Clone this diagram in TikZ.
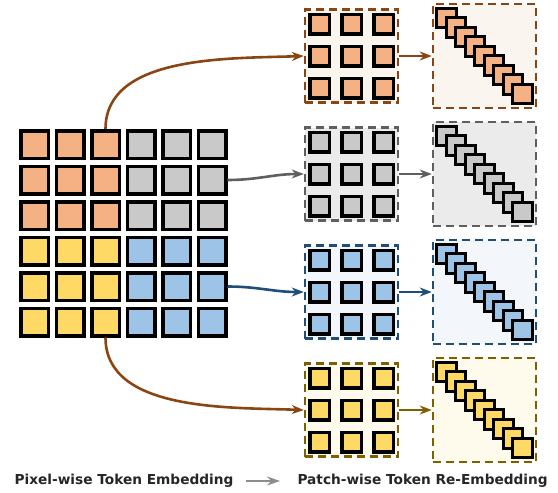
\documentclass[tikz,border=0pt]{standalone}
\usepackage{fontspec}
\setmainfont{DejaVu Sans}
\usepackage{tikz}
\usetikzlibrary{arrows.meta, positioning}
\definecolor{colorOrange}{HTML}{F4B183}
\definecolor{colorGray}{HTML}{C9C9C9}
\definecolor{colorBlue}{HTML}{9DC3E6}
\definecolor{colorYellow}{HTML}{FFD966}
\definecolor{bgOrange}{HTML}{FBF5F0}
\definecolor{bgGray}{HTML}{EBEBEB}
\definecolor{bgBlue}{HTML}{F3F7FC}
\definecolor{bgYellow}{HTML}{FFFBEC}
\definecolor{lineOrange}{HTML}{8B4513}
\definecolor{lineGray}{HTML}{5F5F5F}
\definecolor{lineBlue}{HTML}{1F4E79}
\definecolor{lineYellow}{HTML}{7F6000}
\tikzset{
  pixel/.style={draw=black, line width=3.5pt, minimum size=27.5pt, inner sep=0pt},
  token/.style={draw=black, line width=3.5pt, minimum size=19.5pt, inner sep=0pt},
  diagtok/.style={draw=black, line width=3pt, minimum size=19.5pt, inner sep=0pt},
  patchbox/.style={line width=2.5pt, dash pattern=on 8pt off 5pt, minimum size=93pt, inner sep=0pt},
  rebox/.style={line width=2.5pt, dash pattern=on 8pt off 5pt, minimum width=103pt, minimum height=104pt, inner sep=0pt},
  flow/.style={-{Stealth[length=12pt, width=9pt]}, line width=2.6pt},
  legend/.style={anchor=west, font=\fontsize{13.7}{15}\selectfont\bfseries, text=black!85}
}

\begin{document}
\begin{tikzpicture}[x=1pt, y=-1pt]
\useasboundingbox (0,0) rectangle (558,493);
% pixel-wise tokens
\foreach \r in {1,...,6} {
  \foreach \c in {1,...,6} {
    \pgfmathsetmacro{\fillname}{\r<4 ? (\c<4 ? "colorOrange" : "colorGray") : (\c<4 ? "colorYellow" : "colorBlue")}
    \node[pixel, fill=\fillname] (px-\r-\c) at ({34.5+35.5*(\c-1)}, {144.5+35.5*(\r-1)}) {};
  }
}
% patch-wise tokens and re-embedding
\foreach \n/\y/\fillc/\bgc/\linec in {o/56/colorOrange/bgOrange/lineOrange, g/174/colorGray/bgGray/lineGray, b/292/colorBlue/bgBlue/lineBlue, y/410/colorYellow/bgYellow/lineYellow} {
  \node[patchbox, draw=\linec, fill=\bgc] (mid-\n) at (351.5,\y) {};
  \foreach \i in {1,2,3} {
    \foreach \j in {1,2,3} {
      \node[token, fill=\fillc] (tok-\n-\i-\j) at ({351.5+32*(\j-2)}, {\y+32*(\i-2)}) {};
    }
  }
  \node[rebox, draw=\linec, fill=\bgc] (re-\n) at (484.5,\y) {};
  \foreach \k in {-4,...,4} {
    \node[diagtok, fill=\fillc] (dg-\n-\k) at ({484.5+9.5*\k}, {\y+9.5*\k}) {};
  }
  \draw[flow, \linec] (mid-\n.east) -- (re-\n.west);
}
% connectors
\draw[flow, lineOrange] (px-1-3.north) to[out=90, in=182, looseness=0.9] (mid-o.west);
\draw[flow, lineGray] (px-2-6.east) to[out=0, in=180] (mid-g.west);
\draw[flow, lineBlue] (px-5-6.east) to[out=0, in=180] (mid-b.west);
\draw[flow, lineOrange] (px-6-3.south) to[out=-90, in=178, looseness=0.9] (mid-y.west);
% legend
\node[legend] (legPixel) at (11,481) {Pixel-wise Token Embedding};
\node[legend] (legPatch) at (294,481) {Patch-wise Token Re-Embedding};
\draw[-{Stealth[length=13pt, width=9pt]}, line width=2.6pt, black!45, shorten <=9pt, shorten >=14pt] (legPixel.east) -- (legPatch.west);
\end{tikzpicture}
\end{document}
